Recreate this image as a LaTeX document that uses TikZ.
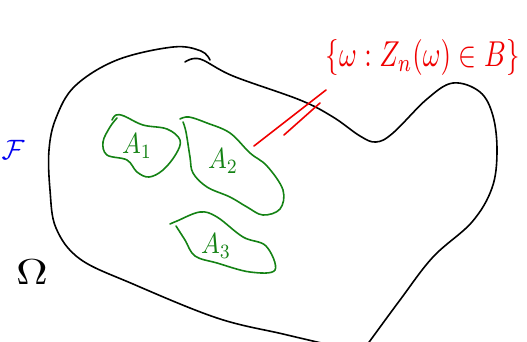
\documentclass[tikz,border=0pt]{standalone}
\definecolor{penred}{RGB}{240,0,0}
\definecolor{pengreen}{RGB}{20,130,20}
\definecolor{penblue}{RGB}{0,0,240}
\begin{document}
\begin{tikzpicture}[x=1pt,y=-1pt,line cap=round,line join=round,
  pen/.style={line width=1.6pt},
  blobline/.style={pen,black,smooth,tension=0.6},
  setline/.style={pen,pengreen,smooth,tension=0.6},
  setlabel/.style={text=pengreen,xscale=2.5,yscale=2.9,inner sep=0pt}]
\useasboundingbox (0,0) rectangle (527,341);
% the space Omega
\draw[blobline] plot coordinates {(185,62) (200,59) (233,76) (300,100) (333,117) (360,136) (376,142) (393,133) (427,99) (453,83) (480,92) (493,116) (497,152) (492,188) (472,222) (433,257) (400,300) (367,345)};
\draw[blobline] plot coordinates {(210,60) (201,51) (173,47) (117,60) (75,86) (56,118) (49,150) (50,190) (56,228) (80,259) (133,284) (217,318) (283,334) (330,345)};
% the sets A_i
\draw[setline] plot coordinates {(112,120) (116,115) (124,116) (143,125) (167,129) (180,140) (176,154) (163,170) (149,177) (137,172) (127,160) (107,155) (103,142) (110,127) (117,118)};
\draw[setline] plot coordinates {(180,119) (189,117) (207,123) (230,133) (250,153) (267,166) (283,190) (280,209) (263,215) (247,207) (230,197) (207,187) (193,173) (190,157) (186,132) (183,122)};
\draw[setline] plot coordinates {(170,224) (177,221) (200,212) (217,217) (243,237) (266,246) (275,270) (250,272) (217,263) (195,256) (185,240) (176,226)};
\node[setlabel] (A1) at (137,146) {$A_1$};
\node[setlabel] (A2) at (223,161) {$A_2$};
\node[setlabel] (A3) at (216,246) {$A_3$};
% the event
\node[text=penred,xscale=2.7,yscale=3.6,anchor=west,inner sep=0pt] (event) at (325,57) {$\{\omega : Z_n(\omega)\in B\}$};
\coordinate (pointA) at (254,146);
\coordinate (pointB) at (284,135);
\coordinate (tailA) at (326,90);
\coordinate (tailB) at (320,103);
\draw[pen,penred] (pointA) -- (tailA);
\draw[pen,penred] (pointB) -- (tailB);
% Omega and the sigma-algebra
\node[xscale=4.4,yscale=3.6,inner sep=0pt] (omega) at (32,272) {$\Omega$};
\node[text=penblue,scale=2.8,inner sep=0pt,anchor=west] (sigma) at (1,150) {$\mathcal{F}$};
\end{tikzpicture}
\end{document}
